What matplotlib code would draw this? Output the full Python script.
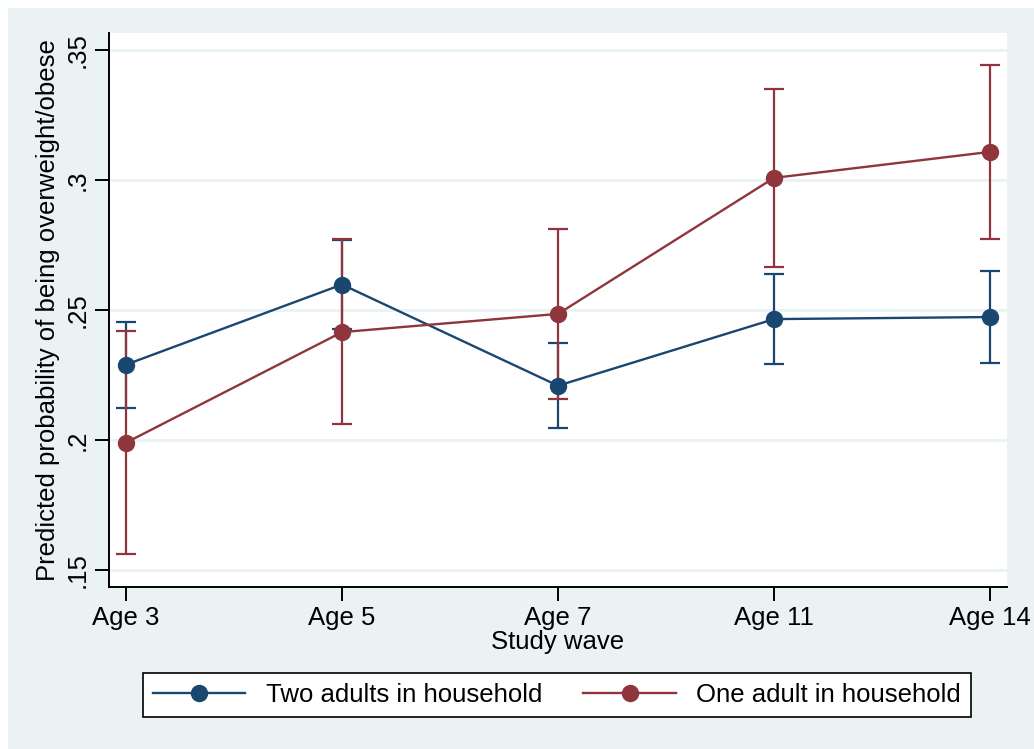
import numpy as np
import matplotlib.pyplot as plt
from matplotlib.patches import Rectangle

plt.rcParams['font.family'] = ['Liberation Sans', 'DejaVu Sans']

waves = ['Age 3', 'Age 5', 'Age 7', 'Age 11', 'Age 14']

two_mean = [0.2290, 0.2598, 0.2209, 0.2465, 0.2473]
two_low = [0.2124, 0.2428, 0.2046, 0.2293, 0.2296]
two_high = [0.2452, 0.2770, 0.2373, 0.2638, 0.2650]

one_mean = [0.1990, 0.2415, 0.2485, 0.3008, 0.3108]
one_low = [0.1562, 0.2062, 0.2158, 0.2665, 0.2773]
one_high = [0.2419, 0.2773, 0.2812, 0.3350, 0.3442]

yticks = [0.15, 0.2, 0.25, 0.3, 0.35]
ylabels = ['.15', '.2', '.25', '.3', '.35']

blue = '#1a476f'
red = '#90353b'
bg = '#eaf2f3'

fig = plt.figure(figsize=(10.34, 7.49), dpi=100, facecolor='white')
fig.patches.append(Rectangle((8 / 1034, 0), 1, 1 - 8 / 749, transform=fig.transFigure,
                             facecolor=bg, edgecolor='none', zorder=-10))
ax = fig.add_axes([0.1054, 0.2163, 0.8685, 0.7396])
ax.set_facecolor('white')

x = np.arange(len(waves))

def draw_ci(mean, low, high, color):
    mean = np.array(mean)
    err = [mean - np.array(low), np.array(high) - mean]
    ax.errorbar(x, mean, yerr=err, fmt='none', ecolor=color, elinewidth=1.6,
                capsize=7, capthick=1.6, zorder=2)

draw_ci(two_mean, two_low, two_high, blue)
draw_ci(one_mean, one_low, one_high, red)
ax.plot(x, two_mean, '-o', color=blue, lw=1.7, ms=11.5, zorder=3, label='Two adults in household')
ax.plot(x, one_mean, '-o', color=red, lw=1.7, ms=11.5, zorder=4, label='One adult in household')

ax.set_xlim(-0.079, 4.079)
ax.set_ylim(0.1435, 0.3565)
ax.set_xticks(x)
ax.set_xticklabels(waves)
ax.set_yticks(yticks)
ax.set_yticklabels(ylabels, rotation=90, va='center')
for t in yticks:
    ax.axhline(t, color=bg, lw=2, zorder=1)

for s in ['top', 'right']:
    ax.spines[s].set_visible(False)
for s in ['left', 'bottom']:
    ax.spines[s].set_linewidth(1.4)
ax.tick_params(axis='both', length=10, width=1.4, labelsize=18.5, pad=4)

ax.set_xlabel('Study wave', fontsize=18.5, labelpad=0)
ax.set_ylabel('Predicted probability of being overweight/obese', fontsize=18.5, labelpad=4)

leg = fig.legend(loc='center', bbox_to_anchor=(557 / 1034, 1 - 695 / 749), ncol=2,
                 fontsize=18.5, frameon=True, fancybox=False, edgecolor='black',
                 facecolor='white', framealpha=1, handlelength=3.6, columnspacing=1.6,
                 borderpad=0.4, handletextpad=0.8)
leg.get_frame().set_linewidth(1.2)

plt.savefig('out.png', dpi=100, facecolor=fig.get_facecolor())
